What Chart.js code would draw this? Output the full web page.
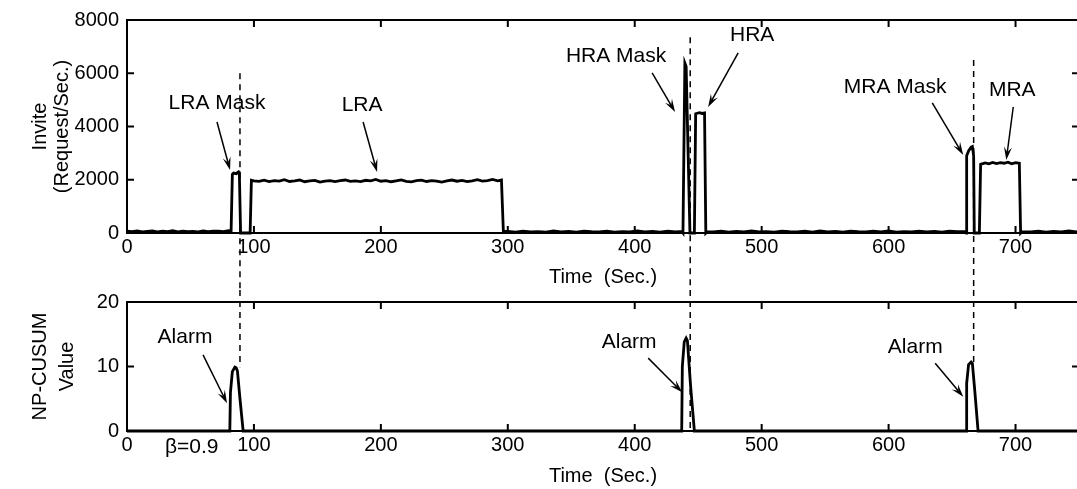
<!DOCTYPE html>
<html>
<head>
<meta charset="utf-8">
<script src="https://cdn.jsdelivr.net/npm/chart.js@4.4.0/dist/chart.umd.min.js"></script>
<style>
  html, body { margin: 0; padding: 0; background: #fff; overflow: hidden; }
  #wrap { position: relative; width: 1077px; height: 489px; overflow: hidden; }
  canvas { position: absolute; left: 0; }
  #topChart { top: 0; }
  #bottomChart { top: 290px; }
</style>
</head>
<body>
<div id="wrap">
  <canvas id="topChart" width="1080" height="290"></canvas>
  <canvas id="bottomChart" width="1080" height="199"></canvas>
</div>
<script>
// Top panel: Invite rate (Request/Sec.) over time (Sec.)
const inviteTime = [
  0, 4, 8, 12, 16, 20, 24, 28, 32, 36, 40, 44, 48, 52, 56, 60, 64, 68, 72, 76, 80, 82,
  83, 84, 86, 87, 88, 88.5, 89.5, 97, 98,
  100, 104, 108, 112, 116, 120, 124, 128, 132, 136, 140, 144, 148, 152, 156, 160, 164, 168, 172, 176,
  180, 184, 188, 192, 196, 200, 204, 208, 212, 216, 220, 224, 228, 232, 236, 240, 244, 248, 252, 256,
  260, 264, 268, 272, 276, 280, 284, 288, 292, 295, 296.5,
  300, 306, 312, 318, 324, 330, 336, 342, 348, 354, 360, 366, 372, 378, 384, 390, 396, 402, 408, 414,
  420, 426, 432, 437, 438, 439.5, 440.5, 443.5, 447, 448, 451, 453, 455, 456, 457,
  462, 468, 474, 480, 486, 492, 498, 504, 510, 516, 522, 528, 534, 540, 546, 552, 558, 564, 570, 576,
  582, 588, 594, 600, 606, 612, 618, 624, 630, 636, 642, 648, 654, 660, 661, 661.5, 663, 665, 666, 667, 667.5,
  671.5, 672.5, 676, 679, 682, 685, 688, 691, 694, 697, 700, 703, 704, 705,
  712, 718, 724, 730, 736, 742, 748, 750
];
const inviteRate = [
  70, 50, 80, 40, 60, 75, 45, 65, 50, 85, 40, 70, 55, 60, 45, 80, 50, 65, 70, 55, 90, 60,
  2200, 2250, 2230, 2270, 2300, 2280, 0, 0, 1980,
  1960, 1940, 1985, 1930, 1970, 1950, 2000, 1935, 1960, 1990, 1925, 1955, 1975, 1910, 1945, 1970, 1930, 1965, 1990, 1940,
  1955, 1930, 1980, 1960, 2010, 1945, 1970, 1925, 1960, 1995, 1940, 1920, 1965, 1985, 1935, 1970, 1950, 1915, 1960, 1990,
  1945, 1975, 1930, 1960, 2000, 1950, 1970, 2010, 1960, 1990, 60,
  60, 30, 70, 45, 55, 30, 75, 40, 60, 35, 70, 50, 40, 65, 35, 55, 45, 75, 40, 60,
  35, 70, 45, 60, 0, 6380, 6250, 0, 0, 4480, 4520, 4490, 4510, 0, 50,
  40, 70, 30, 60, 45, 75, 40, 55, 35, 70, 50, 40, 65, 35, 80, 45, 60, 30, 70, 50,
  40, 65, 45, 75, 35, 55, 40, 70, 45, 60, 30, 65, 50, 50, 0, 2900, 3080, 3230, 3250, 2900, 0,
  0, 2580, 2630, 2600, 2650, 2610, 2640, 2620, 2660, 2600, 2640, 2620, 0, 50,
  40, 70, 35, 60, 45, 75, 40, 55
];

// Bottom panel: NP-CUSUM statistic
const cusumTime = [0, 81, 81.5, 83, 85, 86, 87, 89, 91.5, 437, 437.5, 439, 440.5, 441.5, 444, 447,
  661, 661.5, 663, 665, 666, 668, 670.5, 750];
const cusumValue = [0, 0, 6, 9.2, 9.9, 9.8, 9.3, 5, 0, 0, 10, 13.8, 14.4, 14.0, 7, 0,
  0, 7.4, 10.3, 10.7, 10.5, 6, 0, 0];

// dashed markers (time of detection), with the value where each dash starts/ends
const markerTime = [89, 443.7, 667];
const markerTopFrom = [6000, 7350, 6500];
const markerBottomTo = [9.9, 0, 10.6];

// annotations: text, text position, arrow start, arrow tip (data units)
const topNotes = [
  { text: 'LRA Mask', at: [70.9, 4883], from: [70.9, 4169], to: [81.2, 2366] },
  { text: 'LRA', at: [185.2, 4808], from: [186, 4169], to: [197, 2291] },
  { text: 'HRA Mask', at: [385.3, 6648], from: [413.7, 6010], to: [431.8, 4545] },
  { text: 'HRA', at: [492.5, 7437], from: [481.5, 6761], to: [457.8, 4733] },
  { text: 'MRA Mask', at: [605.2, 5484], from: [634.4, 4883], to: [658.8, 2930] },
  { text: 'MRA', at: [697.4, 5371], from: [698.2, 4733], to: [692.7, 2742] }
];
const bottomNotes = [
  { text: 'Alarm', at: [45.7, 14.6], from: [59.9, 11.8], to: [78.8, 4.3] },
  { text: 'Alarm', at: [395.6, 13.8], from: [410.6, 11.3], to: [437.4, 6.0] },
  { text: 'Alarm', at: [621, 13.0], from: [636.7, 10.5], to: [658.8, 5.3] }
];

const FONT = "'Liberation Sans', Arial, sans-serif";

function arrow(ctx, x1, y1, x2, y2) {
  const ang = Math.atan2(y2 - y1, x2 - x1);
  const len = 13, hw = 4;
  ctx.beginPath();
  ctx.moveTo(x1, y1);
  ctx.lineTo(x2 - Math.cos(ang) * len * 0.6, y2 - Math.sin(ang) * len * 0.6);
  ctx.stroke();
  ctx.beginPath();
  ctx.moveTo(x2, y2);
  ctx.lineTo(x2 - Math.cos(ang) * len - Math.sin(ang) * hw, y2 - Math.sin(ang) * len + Math.cos(ang) * hw);
  ctx.lineTo(x2 - Math.cos(ang) * len * 0.6, y2 - Math.sin(ang) * len * 0.6);
  ctx.lineTo(x2 - Math.cos(ang) * len + Math.sin(ang) * hw, y2 - Math.sin(ang) * len - Math.cos(ang) * hw);
  ctx.closePath();
  ctx.fill();
}

// MATLAB-like frame with inward ticks, dashed markers and text annotations
const framePlugin = {
  id: 'frame',
  afterDatasetsDraw(chart, args, opts) {
    const { ctx, chartArea: a, scales: { x, y } } = chart;
    ctx.save();
    ctx.strokeStyle = '#000';
    ctx.fillStyle = '#000';

    ctx.setLineDash([6, 5]);
    ctx.lineWidth = 1.5;
    markerTime.forEach((t, i) => {
      const px = x.getPixelForValue(t);
      const y1 = opts.top ? y.getPixelForValue(markerTopFrom[i]) : 0;
      const y2 = opts.top ? chart.height : y.getPixelForValue(markerBottomTo[i]);
      ctx.beginPath();
      ctx.moveTo(px, y1);
      ctx.lineTo(px, y2);
      ctx.stroke();
    });
    ctx.setLineDash([]);

    ctx.lineWidth = 2;
    ctx.strokeRect(a.left, a.top, a.width, a.height);
    ctx.beginPath();
    x.ticks.forEach(t => {
      const px = x.getPixelForValue(t.value);
      ctx.moveTo(px, a.bottom); ctx.lineTo(px, a.bottom - 7);
      ctx.moveTo(px, a.top); ctx.lineTo(px, a.top + 7);
    });
    y.ticks.forEach(t => {
      const py = y.getPixelForValue(t.value);
      ctx.moveTo(a.left, py); ctx.lineTo(a.left + 7, py);
      ctx.moveTo(a.right, py); ctx.lineTo(a.right - 7, py);
    });
    ctx.stroke();

    ctx.font = '21px ' + FONT;
    ctx.textAlign = 'center';
    ctx.textBaseline = 'middle';
    ctx.lineWidth = 1.5;
    opts.notes.forEach(n => {
      ctx.fillText(n.text, x.getPixelForValue(n.at[0]), y.getPixelForValue(n.at[1]));
      arrow(ctx, x.getPixelForValue(n.from[0]), y.getPixelForValue(n.from[1]),
        x.getPixelForValue(n.to[0]), y.getPixelForValue(n.to[1]));
    });
    if (opts.beta) {
      ctx.fillText('\u03b2=0.9', x.getPixelForValue(51), a.bottom + 16);
    }
    ctx.restore();
  }
};

function makeChart(id, xs, ys, yMax, yStep, yTitle, plotTop, plotBottom, opts) {
  const canvas = document.getElementById(id);
  const H = canvas.height;
  return new Chart(canvas, {
    type: 'scatter',
    data: {
      datasets: [{
        data: xs.map((t, i) => ({ x: t, y: ys[i] })),
        showLine: true,
        borderColor: '#000',
        borderWidth: 2.8,
        pointRadius: 0,
        tension: 0,
        clip: false
      }]
    },
    options: {
      responsive: false,
      animation: false,
      events: [],
      layout: { padding: { top: plotTop, right: 1, left: 0, bottom: 0 } },
      plugins: { legend: { display: false }, tooltip: { enabled: false }, frame: opts },
      scales: {
        x: {
          type: 'linear', min: 0, max: 750,
          grid: { display: false, drawTicks: false },
          border: { display: false },
          ticks: { stepSize: 100, includeBounds: false, color: '#000', padding: 2,
                   font: { family: FONT, size: 20 }, maxRotation: 0,
                   callback: v => String(v) },
          title: { display: true, text: 'Time  (Sec.)', color: '#000',
                   font: { family: FONT, size: 20 }, padding: { top: 0, bottom: 1 } },
          afterFit: s => {
            s.height = H - plotBottom;
            s.paddingLeft = 0; s.paddingRight = 0;
          }
        },
        y: {
          min: 0, max: yMax,
          grid: { display: false, drawTicks: false },
          border: { display: false },
          ticks: { stepSize: yStep, color: '#000', padding: 8,
                   font: { family: FONT, size: 20 }, callback: v => String(v) },
          title: { display: true, text: yTitle, color: '#000',
                   font: { family: FONT, size: 20, lineHeight: opts.titleLH },
                   padding: { top: opts.titlePad, bottom: 0 } },
          afterFit: s => {
            s.width = 127;
            s.paddingTop = 0; s.paddingBottom = 0;
          }
        }
      }
    },
    plugins: [framePlugin]
  });
}

makeChart('topChart', inviteTime, inviteRate, 8000, 2000, ['Invite', '(Request/Sec.)'], 20, 233,
  { top: true, notes: topNotes, titleLH: 1.1, titlePad: 29 });
makeChart('bottomChart', cusumTime, cusumValue, 20, 10, ['NP-CUSUM', 'Value'], 12, 141,
  { top: false, notes: bottomNotes, beta: true, titleLH: 1.35, titlePad: 27 });
</script>
</body>
</html>
